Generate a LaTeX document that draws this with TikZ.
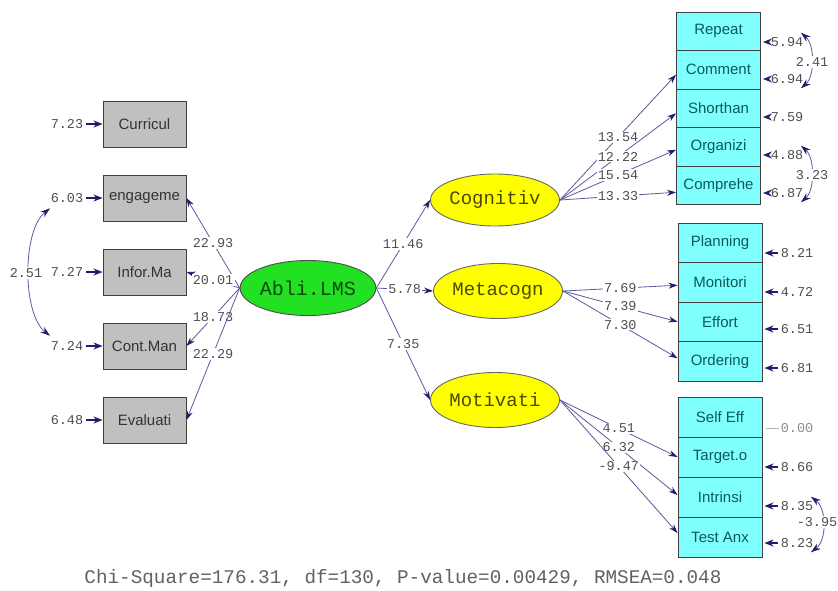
\documentclass[tikz,border=0pt]{standalone}
\usepackage{fontspec}
\setmainfont{Liberation Sans}
\newfontfamily\monof{Liberation Mono}
\usetikzlibrary{arrows.meta,shapes.geometric}
\definecolor{boxgray}{HTML}{C0C0C0}
\definecolor{boxcyan}{HTML}{80FFFF}
\definecolor{latgreen}{HTML}{22E022}
\definecolor{latyellow}{HTML}{FFFF00}
\definecolor{linecol}{HTML}{5A5AA0}
\definecolor{headcol}{HTML}{1E1E6E}
\definecolor{labgray}{HTML}{505050}
\definecolor{tealtext}{HTML}{0A5A5A}
\definecolor{olivetext}{HTML}{4A4A00}
\definecolor{greentext}{HTML}{0A4A0A}
\tikzset{
  obs/.style={draw=black!75, line width=0.9pt, fill=boxgray, minimum width=83pt, minimum height=46pt, inner sep=0pt, font=\fontsize{15}{16}\selectfont, text=black!80},
  ind/.style={draw=black!75, line width=0.9pt, fill=boxcyan, minimum width=84pt, inner sep=0pt, font=\fontsize{15}{16}\selectfont, text=tealtext},
  lat/.style={ellipse, draw, line width=0.9pt, minimum width=100pt, minimum height=52pt, inner sep=0pt, font=\monof\fontsize{19}{20}\selectfont},
  lab/.style={font=\monof\fontsize{13.5}{14}\selectfont, text=labgray, fill=white, inner sep=1.2pt},
  elab/.style={font=\monof\fontsize{13.5}{14}\selectfont, text=labgray, inner sep=1.5pt},
  pth/.style={draw=linecol, line width=0.8pt, -{Stealth[length=9pt,width=6pt,color=headcol]}},
  errarr/.style={draw=headcol, line width=1.4pt, shorten <=1pt, -{Stealth[length=9pt,width=7pt,color=headcol]}},
  cov/.style={draw=linecol, line width=0.8pt, {Stealth[length=10pt,width=6.5pt,color=headcol]}-{Stealth[length=10pt,width=6.5pt,color=headcol]}},
}
\begin{document}
\begin{tikzpicture}[x=1pt,y=-1pt]
\useasboundingbox[fill=white] (0,0) rectangle (838,590);

% left observed boxes
\node[obs] (cur) at (144.5,124) {Curricul};
\node[obs] (eng) at (144.5,198) {engageme};
\node[obs] (inf) at (144.5,272) {Infor.Ma};
\node[obs] (con) at (144.5,346) {Cont.Man};
\node[obs] (eva) at (144.5,420) {Evaluati};

% left error labels
\node[elab] (ecur) at (67,124) {7.23};
\node[elab] (eeng) at (67,198) {6.03};
\node[elab] (einf) at (67,272) {7.27};
\node[elab] (econ) at (67,346) {7.24};
\node[elab] (eeva) at (67,420) {6.48};
\foreach \e/\b in {ecur/cur,eeng/eng,einf/inf,econ/con,eeva/eva}
  \draw[errarr] (\e.east) -- (\b.west);

% left covariance
\draw[cov] ([xshift=1pt,yshift=-4pt]eeng.south west) .. controls +(-28,22) and +(-28,-22) .. ([xshift=1pt,yshift=4pt]econ.north west);
\node[lab] (c251) at (26,273) {2.51};

% latent variables
\node[lat, fill=latgreen, draw=black!70, text=greentext, minimum width=104pt, minimum height=55pt, font=\monof\fontsize{20}{21}\selectfont] (abl) at (308,288) {Abli.LMS};
\node[lat, fill=latyellow, draw=black!60, text=olivetext] (cog) at (495,200) {Cognitiv};
\node[lat, fill=latyellow, draw=black!60, text=olivetext, minimum height=55pt] (met) at (498,291) {Metacogn};
\node[lat, fill=latyellow, draw=black!60, text=olivetext, minimum height=55pt] (mot) at (495,400) {Motivati};

% Abli to left
\draw[pth] (abl.west) -- (eng.east) node[lab,midway] {22.93};
\draw[pth] (abl.west) -- (inf.east) node[lab,midway] {20.01};
\draw[pth] (abl.west) -- (con.east) node[lab,midway] {18.73};
\draw[pth] (abl.west) -- (eva.east) node[lab,midway] {22.29};

% Abli to right
\draw[pth] (abl.east) -- (cog.west) node[lab,midway] {11.46};
\draw[pth] (abl.east) -- (met.west) node[lab,midway] {5.78};
\draw[pth] (abl.east) -- (mot.west) node[lab,midway] {7.35};

% Cognitive indicators
\node[ind, minimum height=38.5pt] (rep) at (718.5,31.25) {Repeat};
\node[ind, minimum height=38.5pt] (com) at (718.5,69.75) {Comment};
\node[ind, minimum height=38.5pt] (sho) at (718.5,108.25) {Shorthan};
\node[ind, minimum height=38.5pt] (org) at (718.5,146.75) {Organizi};
\node[ind, minimum height=38.5pt] (cph) at (718.5,185.25) {Comprehe};

\draw[pth] (cog.east) -- ([yshift=-5pt]com.west) node[lab,midway] {13.54};
\draw[pth] (cog.east) -- ([yshift=-5pt]sho.west) node[lab,midway] {12.22};
\draw[pth] (cog.east) -- ([yshift=-3pt]org.west) node[lab,midway] {15.54};
\draw[pth] (cog.east) -- ([yshift=-7pt]cph.west) node[lab,midway] {13.33};

% Metacognitive indicators
\node[ind, minimum height=39.5pt] (pla) at (720,242.75) {Planning};
\node[ind, minimum height=39.5pt] (mon) at (720,282.25) {Monitori};
\node[ind, minimum height=39.5pt] (eff) at (720,321.75) {Effort};
\node[ind, minimum height=39.5pt] (ord) at (720,361.25) {Ordering};

\draw[pth] (met.east) -- ([yshift=-3pt]mon.west) node[lab,midway] {7.69};
\draw[pth] (met.east) -- (eff.west) node[lab,midway] {7.39};
\draw[pth] (met.east) -- ([yshift=3pt]ord.west) node[lab,midway] {7.30};

% Motivation indicators
\node[ind, minimum height=40pt] (sel) at (720,417) {Self Eff};
\node[ind, minimum height=40pt] (tar) at (720,457) {Target.o};
\node[ind, minimum height=40pt] (int) at (720,497) {Intrinsi};
\node[ind, minimum height=40pt] (tes) at (720,537) {Test Anx};

\draw[pth] (mot.east) -- (tar.west) node[lab,midway] {4.51};
\draw[pth] (mot.east) -- ([yshift=2pt]int.west) node[lab,midway] {6.32};
\draw[pth] (mot.east) -- ([yshift=4pt]tes.west) node[lab,midway] {-9.47};

% right error labels
\node[elab] (erep) at (787,42) {5.94};
\node[elab] (ecom) at (787,79) {6.94};
\node[elab] (esho) at (787,117) {7.59};
\node[elab] (eorg) at (787,155) {4.88};
\node[elab] (ecph) at (787,193) {6.87};
\node[elab] (epla) at (797,253) {8.21};
\node[elab] (emon) at (797,292) {4.72};
\node[elab] (eeff) at (797,329) {6.51};
\node[elab] (eord) at (797,368) {6.81};
\node[elab, text=black!45] (esel) at (797,428) {0.00};
\node[elab] (etar) at (797,467) {8.66};
\node[elab] (eint) at (797,506) {8.35};
\node[elab] (etes) at (797,543) {8.23};
\foreach \e/\b in {erep/rep,ecom/com,esho/sho,eorg/org,ecph/cph,epla/pla,emon/mon,eeff/eff,eord/ord,etar/tar,eint/int,etes/tes}
  \draw[errarr] (\e.west) -- ([xshift=2pt]\e.west -| \b.east);
\draw[draw=black!30, line width=0.6pt] (esel.west) -- ([xshift=4pt]esel.west -| sel.east);

% right covariances
\draw[cov] ([xshift=-4pt,yshift=3pt]erep.north east) .. controls +(14,12) and +(14,-12) .. ([xshift=-4pt,yshift=-3pt]ecom.south east);
\node[lab] (c241) at (812,62) {2.41};
\draw[cov] ([xshift=-4pt,yshift=3pt]eorg.north east) .. controls +(14,12) and +(14,-12) .. ([xshift=-4pt,yshift=-3pt]ecph.south east);
\node[lab] (c323) at (812,175) {3.23};
\draw[cov] ([xshift=-4pt,yshift=3pt]eint.north east) .. controls +(16,12) and +(16,-12) .. ([xshift=-4pt,yshift=-3pt]etes.south east);
\node[lab] (c395) at (817,522) {-3.95};

% fit statistics
\node[font=\monof\fontsize{19.3}{20}\selectfont, text=black!62] (fit) at (403,578) {Chi-Square=176.31, df=130, P-value=0.00429, RMSEA=0.048};
\end{tikzpicture}
\end{document}
